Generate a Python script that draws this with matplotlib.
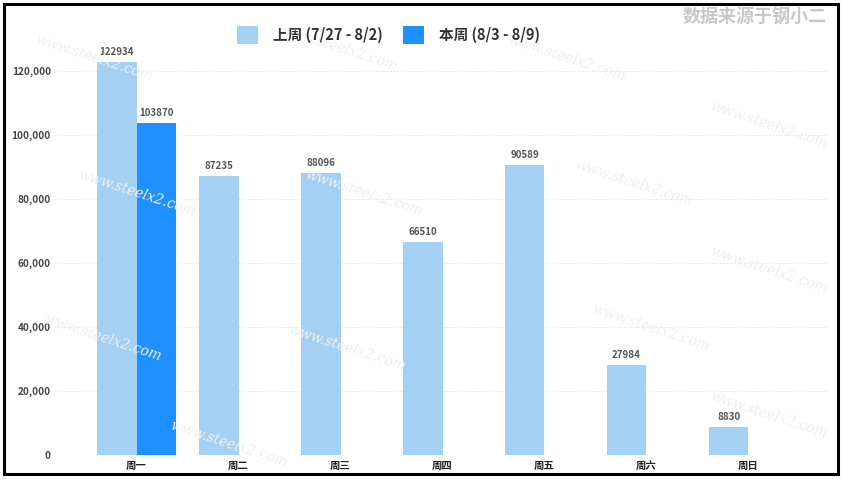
import matplotlib
matplotlib.use("Agg")
import matplotlib.pyplot as plt
import numpy as np
from matplotlib.patches import Rectangle

plt.rcParams['font.family'] = ['Noto Sans CJK SC', 'DejaVu Sans']

days = ['周一', '周二', '周三', '周四', '周五', '周六', '周日']
last_week = [122934, 87235, 88096, 66510, 90589, 27984, 8830]
this_week = [103870, None, None, None, None, None, None]
last_label = '上周 (7/27 - 8/2)'
this_label = '本周 (8/3 - 8/9)'
yticks = [0, 20000, 40000, 60000, 80000, 100000, 120000]

light = '#A4D0F4'
dark = '#1E90FF'

fig = plt.figure(figsize=(8.43, 4.83), dpi=100)
ax = fig.add_axes([0.0652, 0.058, 0.9158, 0.861])

x = np.arange(len(days))
w = 0.39
ax.bar(x - w / 2, last_week, width=w, color=light, label=last_label, zorder=2)
tw_x = [xi + w / 2 for xi, v in zip(x, this_week) if v is not None]
tw_v = [v for v in this_week if v is not None]
ax.bar(tw_x, tw_v, width=w, color=dark, label=this_label, zorder=2)

for xi, v in zip(x, last_week):
    ax.text(xi - w / 2, v + 1600, str(v), ha='center', va='bottom',
            fontsize=7, fontweight='bold', color='#555555')
for xi, v in zip(tw_x, tw_v):
    ax.text(xi, v + 1600, str(v), ha='center', va='bottom',
            fontsize=7, fontweight='bold', color='#555555')

ax.set_xlim(-0.8, 6.77)
ax.set_ylim(0, 130000)
ax.set_xticks(x)
ax.set_xticklabels(days, fontsize=7.5, fontweight='bold', color='#222222')
ax.set_yticks(yticks)
ax.set_yticklabels([f'{t:,}' for t in yticks], fontsize=7.2,
                   fontweight='bold', color='#444444')
ax.tick_params(length=0, pad=4)
ax.tick_params(axis='y', pad=3)
for s in ax.spines.values():
    s.set_visible(False)
ax.grid(axis='y', linestyle=(0, (1, 2)), color='#d8d8d8', linewidth=0.7, zorder=0)

leg = fig.legend(loc='center', bbox_to_anchor=(0.461, 0.9275), ncol=2,
                 frameon=False, handlelength=1.45, handleheight=1.5,
                 columnspacing=1.4, handletextpad=1.0,
                 prop={'size': 10.5, 'weight': 'bold'})
for t in leg.get_texts():
    t.set_color('#333333')

# watermark texts
for (px, py) in [(0.04, 0.88), (0.33, 0.90), (0.60, 0.88), (0.09, 0.60),
                 (0.36, 0.60), (0.68, 0.62), (0.84, 0.74), (0.05, 0.30),
                 (0.34, 0.28), (0.70, 0.32), (0.84, 0.44), (0.20, 0.08),
                 (0.84, 0.14)]:
    fig.text(px, py, 'www.steelx2.com', fontsize=10, color='#f0f0f0',
             rotation=-18, style='italic', family='DejaVu Serif',
             ha='left', va='center', zorder=0)

fig.text(0.98, 0.965, '数据来源于钢小二', ha='right', va='center',
         fontsize=13, fontweight='bold', color='#c8c8c8')

fig.patches.append(Rectangle((4 / 843, 1 - 474 / 483), 834 / 843, 470 / 483,
                             transform=fig.transFigure, fill=False,
                             edgecolor='black', linewidth=2.2, zorder=10))

fig.savefig('out.png', dpi=100)
